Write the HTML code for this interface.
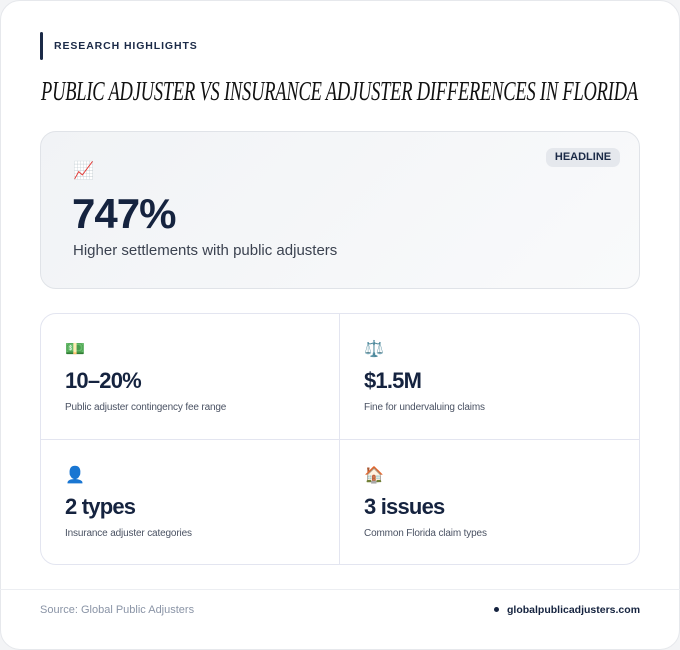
<!DOCTYPE html>
<html><head><meta charset="utf-8"><style>
*{margin:0;padding:0;box-sizing:border-box}
body{width:680px;height:633px;background:#f3f4f6;font-family:"Liberation Sans",sans-serif;overflow:hidden;position:relative}
.card{position:absolute;left:0;top:0;width:680px;height:650px;background:#fff;border-radius:20px;border:1px solid #e6e8ec}
.abs{position:absolute;white-space:nowrap}
.bar{left:40px;top:32px;width:3px;height:28px;background:#1b2a47;border-radius:2px}
.kicker{left:54px;top:40px;font-size:10.5px;font-weight:bold;letter-spacing:0.9px;color:#1b2a47}
.title{left:41px;top:76px;font-family:"Liberation Serif",serif;font-style:italic;font-size:27px;color:#111;transform-origin:0 0;transform:scaleX(0.684);letter-spacing:-0.3px}
.hl{left:40px;top:131px;width:600px;height:158px;border:1px solid #e0e3e8;border-radius:16px;background:linear-gradient(135deg,#f1f3f6,#f9fafb)}
.badge{left:546px;top:148px;width:74px;height:19px;background:#e5e8ed;border-radius:7px;font-size:11px;font-weight:bold;color:#1b2a47;text-align:center;line-height:19px}
.big{left:72px;top:190px;font-size:42px;font-weight:bold;color:#15233f;letter-spacing:-1px}
.sub{left:73px;top:242px;font-size:15px;color:#3b4250}
.grid{left:40px;top:313px;width:600px;height:252px;border:1px solid #e3e5f0;border-radius:16px}
.vd{left:339px;top:314px;width:1px;height:250px;background:#e3e5f0}
.hd{left:41px;top:439px;width:598px;height:1px;background:#e3e5f0}
.em{font-size:16px;font-family:"DejaVu Sans",sans-serif}
.val{font-size:22px;font-weight:bold;color:#15233f;letter-spacing:-0.8px}
.lab{font-size:10px;color:#4a5263;letter-spacing:-0.15px}
.foot{left:0;top:589px;width:680px;height:1px;background:#eceef2}
.src{left:40px;top:604px;font-size:11px;color:#8a94a6}
.dom{left:494px;top:604px;font-size:10.5px;font-weight:bold;color:#15233f}
.dom:before{content:"";display:inline-block;width:5px;height:5px;border-radius:50%;background:#15233f;margin-right:8px;vertical-align:middle;position:relative;top:-1px}
</style></head><body>
<div class="card"></div>
<div class="abs bar"></div>
<div class="abs kicker">RESEARCH HIGHLIGHTS</div>
<div class="abs title">PUBLIC ADJUSTER VS INSURANCE ADJUSTER DIFFERENCES IN FLORIDA</div>
<div class="abs hl"></div>
<div class="abs badge">HEADLINE</div>
<div class="abs em" style="left:73px;top:161px;font-size:17px;color:#d33">📈</div>
<div class="abs big">747%</div>
<div class="abs sub">Higher settlements with public adjusters</div>
<div class="abs grid"></div>
<div class="abs vd"></div>
<div class="abs hd"></div>
<div class="abs em" style="left:65px;top:339px;color:#3a9d3a">💵</div>
<div class="abs val" style="left:65px;top:368px">10–20%</div>
<div class="abs lab" style="left:65px;top:402px">Public adjuster contingency fee range</div>
<div class="abs em" style="left:364px;top:339px;color:#5a8aa0">⚖️</div>
<div class="abs val" style="left:364px;top:368px">$1.5M</div>
<div class="abs lab" style="left:364px;top:402px">Fine for undervaluing claims</div>
<div class="abs em" style="left:65px;top:465px;color:#2f6fd0">👤</div>
<div class="abs val" style="left:65px;top:494px">2 types</div>
<div class="abs lab" style="left:65px;top:528px">Insurance adjuster categories</div>
<div class="abs em" style="left:364px;top:465px;color:#c0602a">🏠</div>
<div class="abs val" style="left:364px;top:494px">3 issues</div>
<div class="abs lab" style="left:364px;top:528px">Common Florida claim types</div>
<div class="abs foot"></div>
<div class="abs src">Source: Global Public Adjusters</div>
<div class="abs dom">globalpublicadjusters.com</div>
</body></html>
